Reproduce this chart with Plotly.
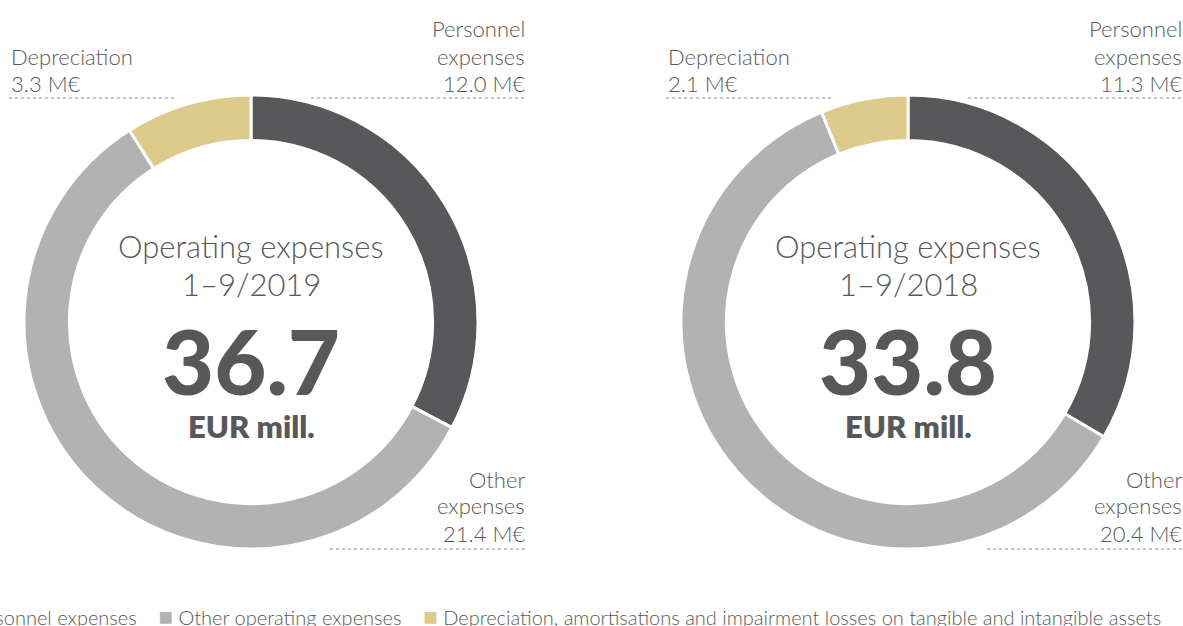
"""Operating expenses 1-9/2019 vs 1-9/2018 donut charts."""
import plotly.graph_objects as go

# Data
periods = ["1–9/2019", "1–9/2018"]
totals = [36.7, 33.8]
short_labels = ["Personnel<br>expenses", "Other<br>expenses", "Depreciation"]
legend_labels = [
    "Personnel expenses",
    "Other operating expenses",
    "Depreciation, amortisations and impairment losses on tangible and intangible assets",
]
values_2019 = [12.0, 21.4, 3.3]
values_2018 = [11.3, 20.4, 2.1]

colors = ["#58585a", "#b2b2b2", "#dccb8a"]
text_color = "#58585a"
W, H = 1183, 626
FONT = "Lato"


def px(x):
    return x / W


def py(y):
    return 1 - y / H


def label_lines(x, y_last, anchor, text, font):
    """One annotation per line so the line spacing can be set."""
    lines = text.split("<br>")
    out = []
    for k, line in enumerate(lines):
        y = y_last - 27 * (len(lines) - 1 - k)
        out.append(dict(x=px(x), y=py(y), xanchor=anchor, yanchor="middle",
                        text=line, showarrow=False, font=font))
    return out


def main() -> None:
    fig = go.Figure()
    centers = [251, 908]
    radius = 227
    annotations = []
    shapes = []

    for i, values in enumerate([values_2019, values_2018]):
        cx = centers[i]
        fig.add_trace(go.Pie(
            labels=legend_labels,
            values=values,
            sort=False,
            direction="clockwise",
            rotation=0,
            hole=0.8,
            textinfo="none",
            hoverinfo="label+value",
            marker={"colors": colors, "line": {"color": "white", "width": 3}},
            domain={"x": [px(cx - radius), px(cx + radius)],
                    "y": [py(322 + radius), py(322 - radius)]},
            showlegend=False,
        ))

        # centre text
        light = {"family": FONT, "size": 31, "color": text_color, "weight": 300}
        annotations.append(dict(x=px(cx), y=py(246), text="Operating expenses",
                                showarrow=False, xanchor="center", yanchor="middle",
                                font=light))
        annotations.append(dict(x=px(cx), y=py(284), text=periods[i],
                                showarrow=False, xanchor="center", yanchor="middle",
                                font=light))
        annotations.append(dict(
            x=px(cx), y=py(360), text=f"{totals[i]:.1f}",
            showarrow=False, xanchor="center", yanchor="middle",
            font={"family": FONT, "size": 90, "color": text_color, "weight": 900},
        ))
        annotations.append(dict(
            x=px(cx), y=py(426), text="EUR mill.",
            showarrow=False, xanchor="center", yanchor="middle",
            font={"family": FONT, "size": 31, "color": text_color, "weight": 800},
        ))

        # slice labels with dotted rules
        lab_font = {"family": FONT, "size": 22, "color": text_color, "weight": 300}
        right_x = cx + 276
        left_x = cx - 242
        annotations += label_lines(right_x, 83, "right",
                                   f"{short_labels[0]}<br>{values[0]:.1f} M€", lab_font)
        annotations += label_lines(right_x, 533, "right",
                                   f"{short_labels[1]}<br>{values[1]:.1f} M€", lab_font)
        annotations += label_lines(left_x, 83, "left",
                                   f"{short_labels[2]}<br>{values[2]:.1f} M€", lab_font)
        dot = {"color": "#8a8a8a", "width": 1, "dash": "dot"}
        for x0, x1, y in [(left_x, cx - 75, 98), (cx + 60, right_x, 98),
                          (cx + 79, right_x, 549)]:
            shapes.append(dict(type="line", xref="paper", yref="paper",
                               x0=px(x0), x1=px(x1), y0=py(y), y1=py(y), line=dot))

    # legend row along the bottom
    sq = "<span style='color:{c}; font-family:DejaVu Sans; font-size:24px'>■</span>"
    parts = [f"{sq.format(c=c)}&nbsp;{name}" for c, name in zip(colors, legend_labels)]
    annotations.append(dict(
        x=px(1163), y=py(617), xanchor="right", yanchor="middle", showarrow=False,
        text="&nbsp;&nbsp;&nbsp;&nbsp;".join(parts),
        font={"family": FONT, "size": 20, "color": text_color, "weight": 300},
    ))

    fig.update_layout(
        width=W, height=H,
        margin={"l": 0, "r": 0, "t": 0, "b": 0},
        paper_bgcolor="white", plot_bgcolor="white",
        annotations=annotations, shapes=shapes,
    )
    fig.write_html("out.html", config={"displayModeBar": False},
                   post_script="document.body.style.margin='0';")


if __name__ == "__main__":
    main()
